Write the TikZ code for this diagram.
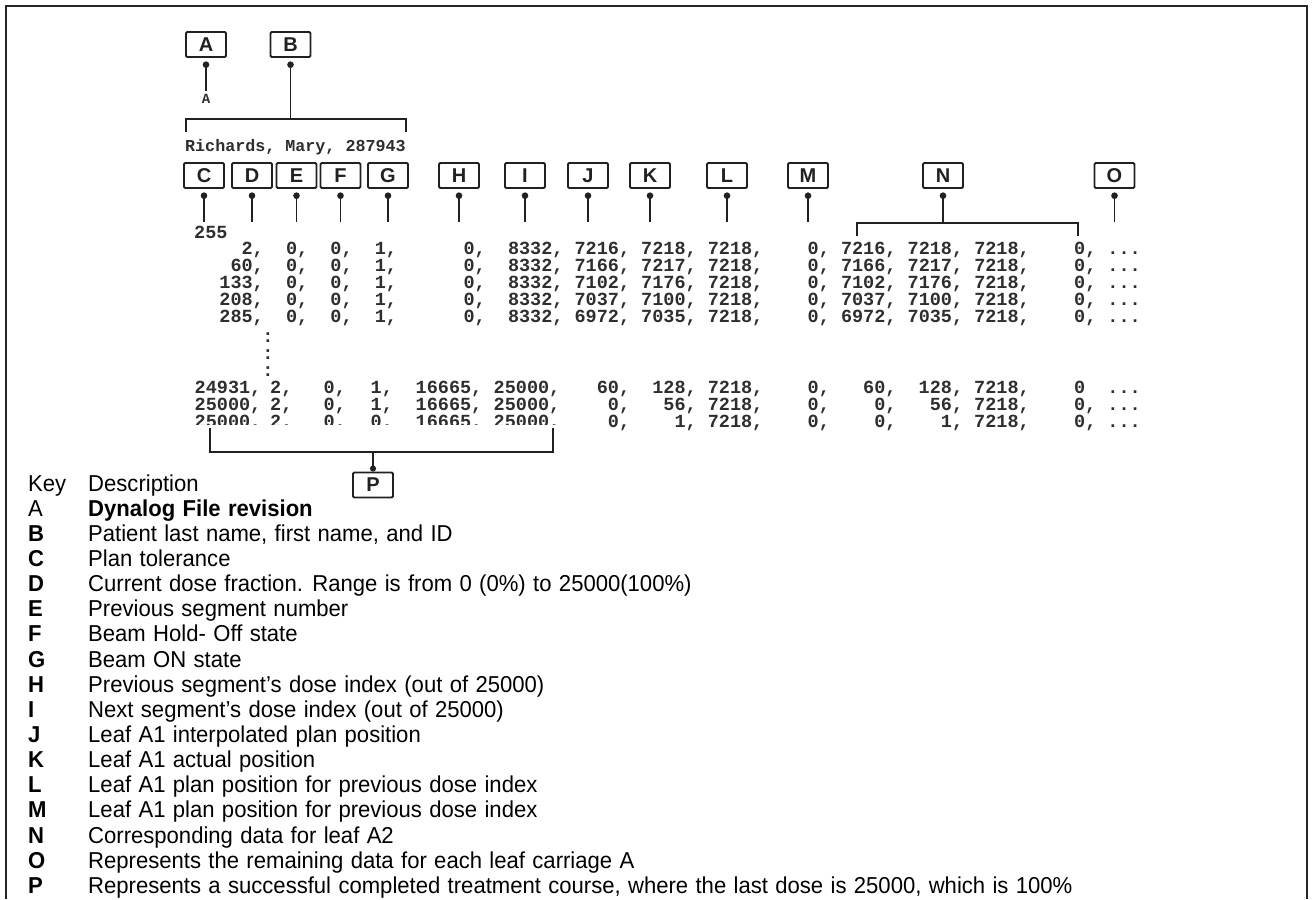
\documentclass[tikz,border=0pt]{standalone}
\usepackage{fontspec}
\setmainfont{Liberation Sans}
\newfontfamily\keyfont[FakeStretch=0.96,WordSpace=1.2]{Liberation Sans}
\newfontfamily\datafont{Liberation Mono}
\usetikzlibrary{arrows.meta}
\definecolor{ink}{gray}{0.13}
\definecolor{dink}{gray}{0.18}
\newcommand\tdots{...}
\begin{document}
\begin{tikzpicture}[x=1pt,y=-1pt,
  lbox/.style={draw=ink, line width=1.9pt, rounded corners=1.2pt, minimum width=40pt,
    minimum height=25pt, inner sep=0pt, text=ink, font=\bfseries\fontsize{20}{20}\selectfont},
  conn/.style={draw=ink, line width=1.8pt},
  pin/.style={conn, {Circle[length=6.5pt,width=6.5pt]}-, shorten <=3.5pt},
  dat/.style={inner sep=0pt, anchor=base west, text=dink,
    font=\datafont\bfseries\frenchspacing\fontsize{18.5}{18.5}\selectfont},
  keyt/.style={inner sep=0pt, anchor=base west, text=black,
    font=\keyfont\fontsize{23}{23}\selectfont},
  keyl/.style={keyt, font=\keyfont\bfseries\fontsize{23}{23}\selectfont}]
\useasboundingbox (0,0) rectangle (1313,899);
% frame (open at the bottom)
\draw[line width=1.5pt, black!85] (6,899) -- (6,6) -- (1307,6) -- (1307,899);

% top boxes
\node[lbox] (A) at (206,44.5) {A};
\node[lbox] (B) at (290.5,44.5) {B};
\node[inner sep=0pt, text=dink, font=\datafont\bfseries\fontsize{14}{14}\selectfont] (Arev) at (206,99) {A};
\draw[pin, shorten >=3pt] (A.south) -- (Arev.north);
\coordinate (eB) at (290.5,119);
\draw[pin] (B.south) -- (eB);
\coordinate (BL) at (186,119); \coordinate (BLt) at (186,132);
\coordinate (BR) at (406,119); \coordinate (BRt) at (406,132);
\draw[conn] (BLt) -- (BL) -- (BR) -- (BRt);
\node[dat, font=\datafont\bfseries\fontsize{16.7}{16.7}\selectfont] (name) at (185,151) {Richards, Mary, 287943};

% row of field boxes
\foreach \nm/\x in {C/204,D/252,E/296.5,F/340.5,G/388,H/459,I/525,J/588,K/650,L/727,M/808,N/943,O/1114.5}{
  \node[lbox] (\nm) at (\x,175.5) {\nm};
  \coordinate (e\nm) at (\x,222);
}
\foreach \nm in {C,D,E,F,G,H,I,J,K,L,M,O}{
  \draw[pin] (\nm.south) -- (e\nm);
}
\coordinate (eN2) at (943,223);
\draw[pin] (N.south) -- (eN2);
\coordinate (NL) at (857,223); \coordinate (NLt) at (857,236);
\coordinate (NR) at (1078,223); \coordinate (NRt) at (1078,236);
\draw[conn] (NLt) -- (NL) -- (NR) -- (NRt);

% data
\node[dat] (tol) at (194,238.5) {255};
\foreach \s [count=\i from 0] in {
 {~~~~2,~~0,~~0,~~1,~~~~~~0,~~8332,~7216,~7218,~7218,~~~~0,~7216,~7218,~7218,~~~~0,~\tdots},
 {~~~60,~~0,~~0,~~1,~~~~~~0,~~8332,~7166,~7217,~7218,~~~~0,~7166,~7217,~7218,~~~~0,~\tdots},
 {~~133,~~0,~~0,~~1,~~~~~~0,~~8332,~7102,~7176,~7218,~~~~0,~7102,~7176,~7218,~~~~0,~\tdots},
 {~~208,~~0,~~0,~~1,~~~~~~0,~~8332,~7037,~7100,~7218,~~~~0,~7037,~7100,~7218,~~~~0,~\tdots},
 {~~285,~~0,~~0,~~1,~~~~~~0,~~8332,~6972,~7035,~7218,~~~~0,~6972,~7035,~7218,~~~~0,~\tdots}}{
  \node[dat] (r\i) at (197,254.5+17*\i) {\s};
}
\foreach \y [count=\i] in {338,355,372}{
  \node[dat, anchor=center] (col\i) at (268,\y) {:};
}
% bottom rows, left part
\foreach \x/\t in {194.5/{24931,},270/{2,},323.5/{0,},370.5/{1,},415.5/{16665,},493.5/{25000,}}{
  \node[dat] at (\x,393.5) {\t};
}
\foreach \x/\t in {194.5/{25000,},270/{2,},323.5/{0,},370.5/{1,},415.5/{16665,},493.5/{25000,}}{
  \node[dat] at (\x,410.5) {\t};
}
\begin{scope}
\clip (150,412) rectangle (570,424.5);
\foreach \x/\t in {194.5/{25000,},270/{2,},323.5/{0,},370.5/{0,},415.5/{16665,},493.5/{25000,}}{
  \node[dat] at (\x,427.5) {\t};
}
\end{scope}
% bottom rows, right part
\node[dat] (b1) at (574.4,393.5) {~~60,~~128,~7218,~~~~0,~~~60,~~128,~7218,~~~~0~~\tdots};
\node[dat] (b2) at (574.4,410.5) {~~~0,~~~56,~7218,~~~~0,~~~~0,~~~56,~7218,~~~~0,~\tdots};
\node[dat] (b3) at (574.4,427.5) {~~~0,~~~~1,~7218,~~~~0,~~~~0,~~~~1,~7218,~~~~0,~\tdots};

% bracket to P
\node[lbox] (P) at (373,485) {P};
\coordinate (PL1) at (210,428); \coordinate (PL2) at (210,452);
\coordinate (PR1) at (553,428); \coordinate (PR2) at (553,452);
\coordinate (Pm) at (373,452);
\draw[conn] (PL1) -- (PL2) -- (PR2) -- (PR1);
\draw[conn, -{Circle[length=6pt,width=6pt]}] (Pm) -- (P.north);

% key
\node[keyt] (kh1) at (28,491) {Key};
\node[keyt] (kh2) at (88,491) {Description};
\foreach \L/\D [count=\i from 1] in {
 {\mdseries A}/{\bfseries Dynalog File revision},
 B/{Patient last name, first name, and ID},
 C/{Plan tolerance},
 D/{Current dose fraction. Range is from 0 (0\%) to 25000(100\%)},
 E/{Previous segment number},
 F/{Beam Hold- Off state},
 G/{Beam ON state},
 H/{Previous segment’s dose index (out of 25000)},
 I/{Next segment’s dose index (out of 25000)},
 J/{Leaf A1 interpolated plan position},
 K/{Leaf A1 actual position},
 L/{Leaf A1 plan position for previous dose index},
 M/{Leaf A1 plan position for previous dose index},
 N/{Corresponding data for leaf A2},
 O/{Represents the remaining data for each leaf carriage A},
 P/{Represents a successful completed treatment course, where the last dose is 25000, which is 100\%}}{
  \node[keyl] (kl\i) at (28,491+25.15*\i) {\L};
  \node[keyt] (kd\i) at (88,491+25.15*\i) {\D};
}
\end{tikzpicture}
\end{document}
